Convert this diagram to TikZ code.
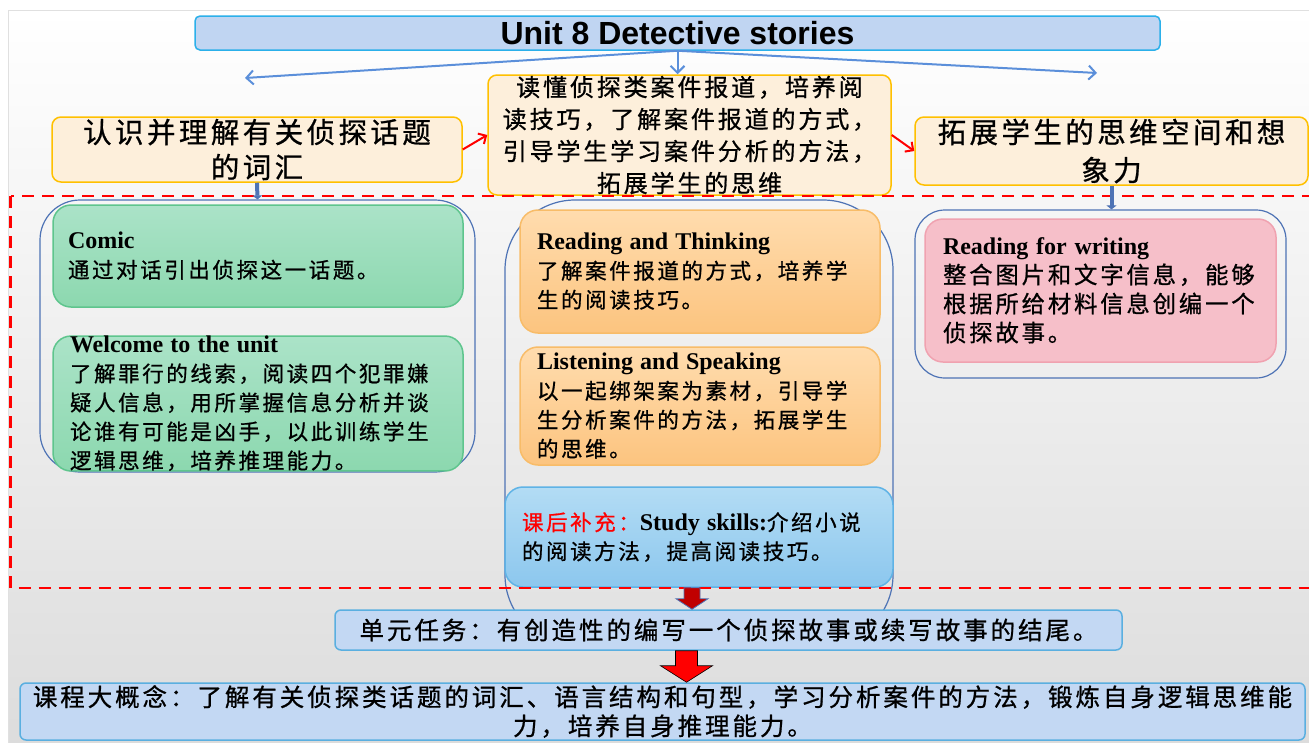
\documentclass[tikz,border=0pt]{standalone}
\usepackage{fontspec}
\setmainfont{Liberation Serif}
\newfontfamily\cjk[LetterSpace=12, FakeBold=0.8]{Noto Sans CJK SC}
\newfontfamily\titlefont{Liberation Sans}
\usetikzlibrary{arrows.meta,calc}
\definecolor{peachfill}{HTML}{FDEFDB}
\definecolor{goldline}{HTML}{FFC000}
\definecolor{titlefill}{HTML}{C0D5F2}
\definecolor{titleline}{HTML}{2BB0EA}
\definecolor{linkblue}{HTML}{5B8FDA}
\definecolor{holdblue}{HTML}{4E73B5}
\definecolor{greentop}{HTML}{ABE3C8}
\definecolor{greenbot}{HTML}{8CD8AF}
\definecolor{greenline}{HTML}{5EC58D}
\definecolor{orangetop}{HTML}{FFDCAE}
\definecolor{orangebot}{HTML}{FCC47F}
\definecolor{orangeline}{HTML}{F8BC68}
\definecolor{skytop}{HTML}{B3DCF4}
\definecolor{skybot}{HTML}{8CC7EE}
\definecolor{skyline}{HTML}{5FB3E6}
\definecolor{pinkfill}{HTML}{F6BFC9}
\definecolor{pinkline}{HTML}{F0A2B0}
\definecolor{taskfill}{HTML}{C3D8F3}
\definecolor{taskline}{HTML}{5AAFE0}
\definecolor{dropred}{HTML}{C00000}
\definecolor{bgmid}{HTML}{EEF1F5}
\definecolor{bgbot}{HTML}{DCDCDC}
\newcommand{\engtitle}[1]{{\rmfamily\bfseries\fontsize{24}{29}\selectfont #1}}
\begin{document}
\begin{tikzpicture}[x=1pt,y=-1pt,
            goal/.style={draw=goldline, line width=1.5pt, fill=peachfill, rounded corners=9pt, align=center, inner sep=0pt},
            holder/.style={draw=holdblue, line width=1.2pt, rounded corners=#1, inner sep=0pt},
            card/.style={line width=1.5pt, rounded corners=18pt, align=left, inner ysep=0pt, font=\cjk\fontsize{21.5}{29}\selectfont},
            link/.style={linkblue, line width=2pt, -{Straight Barb[length=7pt,width=14pt]}},
            flow/.style={red, line width=2pt, -{Straight Barb[length=6pt,width=12pt]}},
            drop/.style={holdblue, line width=4pt, -{Triangle[length=4pt,width=10pt]}},
            band/.style={draw=taskline, line width=1.5pt, fill=taskfill, rounded corners=6pt, align=center, inner sep=0pt}]
            \useasboundingbox (0,0) rectangle (1309,742);
            \shadedraw[top color=white, middle color=bgmid, bottom color=bgbot, draw=black!12] (8,10) rectangle (1315,750);
            \node[draw=titleline, line width=1.5pt, fill=titlefill, rounded corners=5pt, minimum width=965pt, minimum height=34pt, inner sep=0pt, font=\titlefont\bfseries\fontsize{32}{36}\selectfont] (title) at (677.5,33) {Unit 8 Detective stories};
            \node[goal, minimum width=410pt, minimum height=65pt, font=\cjk\fontsize{28.5}{35}\selectfont] (vocab) at (257,149.5) {认识并理解有关侦探话题\\的词汇};
            \node[goal, minimum width=403pt, minimum height=120pt, font=\cjk\fontsize{24}{32}\selectfont] (skill) at (689.5,135) {读懂侦探类案件报道，培养阅\\读技巧，了解案件报道的方式，\\引导学生学习案件分析的方法，\\拓展学生的思维};
            \node[goal, minimum width=393pt, minimum height=68pt, font=\cjk\fontsize{28.5}{38}\selectfont] (mind) at (1111.5,151) {拓展学生的思维空间和想\\象力};
            \coordinate (lefttip) at (245,78);
            \coordinate (righttip) at (1097,73);
            \draw[link] (title.south) -- (lefttip);
            \draw[link] (title.south) -- (title.south |- skill.north);
            \draw[link] (title.south) -- (righttip);
            \draw[flow] (vocab.east) -- (skill.west);
            \draw[flow] (skill.east) -- (mind.west);
            \node[holder=40pt, minimum width=435pt, minimum height=272pt] (left) at (257.5,336) {};
            \node[holder=70pt, minimum width=388pt, minimum height=445pt] (middle) at (699,422.5) {};
            \node[holder=30pt, minimum width=371pt, minimum height=168pt] (right) at (1100.5,294) {};
            \node[card, draw=greenline, top color=greentop, bottom color=greenbot, text width=380pt, inner xsep=15pt, minimum height=102pt] (comic) at (258,256) {\engtitle{Comic}\\通过对话引出侦探这一话题。};
            \node[card, draw=greenline, top color=greentop, bottom color=greenbot, text width=376pt, inner xsep=17pt, minimum height=133pt] (welcome) at (258,403.5) {\engtitle{Welcome to the unit}\\了解罪行的线索，阅读四个犯罪嫌\\疑人信息，用所掌握信息分析并谈\\论谁有可能是凶手，以此训练学生\\逻辑思维，培养推理能力。};
            \node[card, draw=orangeline, top color=orangetop, bottom color=orangebot, text width=326pt, inner xsep=17pt, minimum height=123pt] (thinking) at (700,271.5) {\engtitle{Reading and Thinking}\\了解案件报道的方式，培养学\\生的阅读技巧。};
            \node[card, draw=orangeline, top color=orangetop, bottom color=orangebot, text width=326pt, inner xsep=17pt, minimum height=118pt] (speaking) at (700,406) {\engtitle{Listening and Speaking}\\以一起绑架案为素材，引导学\\生分析案件的方法，拓展学生\\的思维。};
            \node[card, draw=skyline, top color=skytop, bottom color=skybot, text width=354pt, inner xsep=17pt, minimum height=100pt] (study) at (699,537) {{\color{red}课后补充：}\engtitle{Study skills:}介绍小说\\的阅读方法，提高阅读技巧。};
            \node[card, draw=pinkline, fill=pinkfill, text width=315pt, inner xsep=18pt, minimum height=143pt, font=\cjk\fontsize{23.4}{29}\selectfont] (writing) at (1100.5,290.5) {\engtitle{Reading for writing}\\整合图片和文字信息，能够\\根据所给材料信息创编一个\\侦探故事。};
            \draw[red, line width=2.5pt, dash pattern=on 12pt off 8pt] (10.5,196) rectangle (1330,588);
            \draw[drop] (vocab.south) -- (left.north);
            \draw[drop] (mind.south) -- (mind.south |- right.north);
            \node[band, minimum width=787pt, minimum height=40pt, font=\cjk\fontsize{24.5}{30}\selectfont] (task) at (728.5,630) {单元任务：有创造性的编写一个侦探故事或续写故事的结尾。};
            \node[band, minimum width=1285pt, minimum height=57pt, font=\cjk\fontsize{24.5}{29}\selectfont] (concept) at (662.5,711.5) {课程大概念：了解有关侦探类话题的词汇、语言结构和句型，学习分析案件的方法，锻炼自身逻辑思维能\\力，培养自身推理能力。};
            \coordinate (dropA) at ($(study.south)+(-7,0)$);
            \filldraw[fill=dropred, draw=holdblue, line width=0.8pt] ($(dropA)+(-8,0)$) -- ($(dropA)+(8,0)$) -- ($(dropA)+(8,11)$) -- ($(dropA)+(16,11)$) -- (dropA |- task.north) -- ($(dropA)+(-16,11)$) -- ($(dropA)+(-8,11)$) -- cycle;
            \coordinate (bigA) at ($(task.south)+(-42,0)$);
            \filldraw[fill=red, draw=black, line width=0.6pt] ($(bigA)+(-11,0)$) -- ($(bigA)+(11,0)$) -- ($(bigA)+(11,15)$) -- ($(bigA)+(26,15)$) -- (bigA |- concept.north) -- ($(bigA)+(-26,15)$) -- ($(bigA)+(-11,15)$) -- cycle;
        \end{tikzpicture}
\end{document}
